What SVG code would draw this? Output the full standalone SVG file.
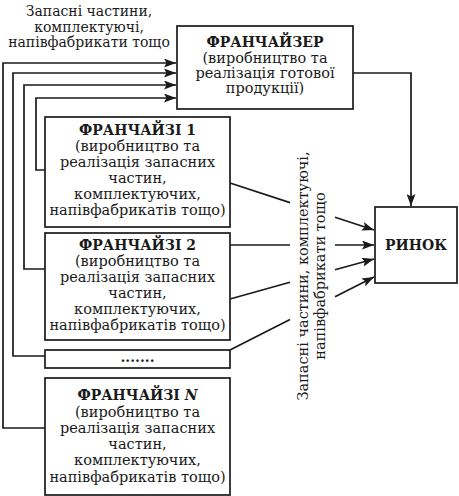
<svg xmlns="http://www.w3.org/2000/svg" width="459" height="496" viewBox="0 0 459 496">
<style>
.box{fill:#fff;stroke:#1a1a1a;stroke-width:1.7}
.t{font-family:"DejaVu Serif","Liberation Serif",serif;font-size:14.5px;fill:#1a1a1a;text-anchor:middle}
.s{font-size:14px}
.b{font-weight:bold;font-size:14px}
.ln{fill:none;stroke:#1a1a1a;stroke-width:1.7}
</style>
<defs>
<marker id="ah" viewBox="0 0 12 9" refX="12" refY="4.5" markerWidth="12" markerHeight="9" markerUnits="userSpaceOnUse" orient="auto">
<path d="M0,0 L12,4.5 L0,9 L2.5,4.5 Z" fill="#1a1a1a"/>
</marker>
</defs>
<rect width="459" height="496" fill="#fff"/>
<g id="connectors">
<path class="ln" d="M45,428 H3 V63 H176" marker-end="url(#ah)"/>
<path class="ln" d="M45,356 H13 V73 H176" marker-end="url(#ah)"/>
<path class="ln" d="M45,269 H24 V85 H176" marker-end="url(#ah)"/>
<path class="ln" d="M45,170 H36 V98 H176" marker-end="url(#ah)"/>
<path class="ln" d="M353,73 H411 V206" marker-end="url(#ah)"/>
<path class="ln" d="M230,183 L290,202.6"/>
<path class="ln" d="M335,217.3 L374,230" marker-end="url(#ah)"/>
<path class="ln" d="M230,245 H290"/>
<path class="ln" d="M335,245 H374" marker-end="url(#ah)"/>
<path class="ln" d="M230,299 L290,282.3"/>
<path class="ln" d="M335,269.8 L374,259" marker-end="url(#ah)"/>
<path class="ln" d="M230,350 L290,319.6"/>
<path class="ln" d="M335,296.8 L374,277" marker-end="url(#ah)"/>
</g>
<g id="label-top">
<text class="t s" x="89" y="16">Запасні частини,</text>
<text class="t s" x="89" y="31.5">комплектуючі,</text>
<text class="t s" x="89" y="47">напівфабрикати тощо</text>
</g>
<g id="label-side">
<text class="t" transform="translate(308,276) rotate(-90)">Запасні частини, комплектуючі,</text>
<text class="t" transform="translate(325,276) rotate(-90)">напівфабрикати тощо</text>
</g>
<g id="franchiser">
<rect class="box" x="177" y="26" width="176" height="83"/>
<text class="t b" x="265" y="47">ФРАНЧАЙЗЕР</text>
<text class="t" x="265" y="63">(виробництво та</text>
<text class="t" x="265" y="78">реалізація готової</text>
<text class="t" x="265" y="93">продукції)</text>
</g>
<g id="franchisee1">
<rect class="box" x="45" y="117" width="185" height="110"/>
<text class="t b" x="137.5" y="135">ФРАНЧАЙЗІ 1</text>
<text class="t" x="137.5" y="151">(виробництво та</text>
<text class="t" x="137.5" y="167">реалізація запасних</text>
<text class="t" x="137.5" y="183">частин,</text>
<text class="t" x="137.5" y="199">комплектуючих,</text>
<text class="t" x="137.5" y="215">напівфабрикатів тощо)</text>
</g>
<g id="franchisee2">
<rect class="box" x="45" y="233" width="185" height="107"/>
<text class="t b" x="137.5" y="250">ФРАНЧАЙЗІ 2</text>
<text class="t" x="137.5" y="266">(виробництво та</text>
<text class="t" x="137.5" y="282">реалізація запасних</text>
<text class="t" x="137.5" y="298">частин,</text>
<text class="t" x="137.5" y="314">комплектуючих,</text>
<text class="t" x="137.5" y="330">напівфабрикатів тощо)</text>
</g>
<g id="franchisee-dots">
<rect class="box" x="45" y="350" width="185" height="18"/>
<text class="t b" x="137.5" y="362">.......</text>
</g>
<g id="franchiseeN">
<rect class="box" x="45" y="378" width="185" height="117"/>
<text class="t b" x="137.5" y="400">ФРАНЧАЙЗІ <tspan font-style="italic">N</tspan></text>
<text class="t" x="137.5" y="417">(виробництво та</text>
<text class="t" x="137.5" y="433">реалізація запасних</text>
<text class="t" x="137.5" y="449">частин,</text>
<text class="t" x="137.5" y="465">комплектуючих,</text>
<text class="t" x="137.5" y="482">напівфабрикатів тощо)</text>
</g>
<g id="market">
<rect class="box" x="375" y="207" width="82" height="76"/>
<text class="t b" x="416" y="250">РИНОК</text>
</g>
</svg>
